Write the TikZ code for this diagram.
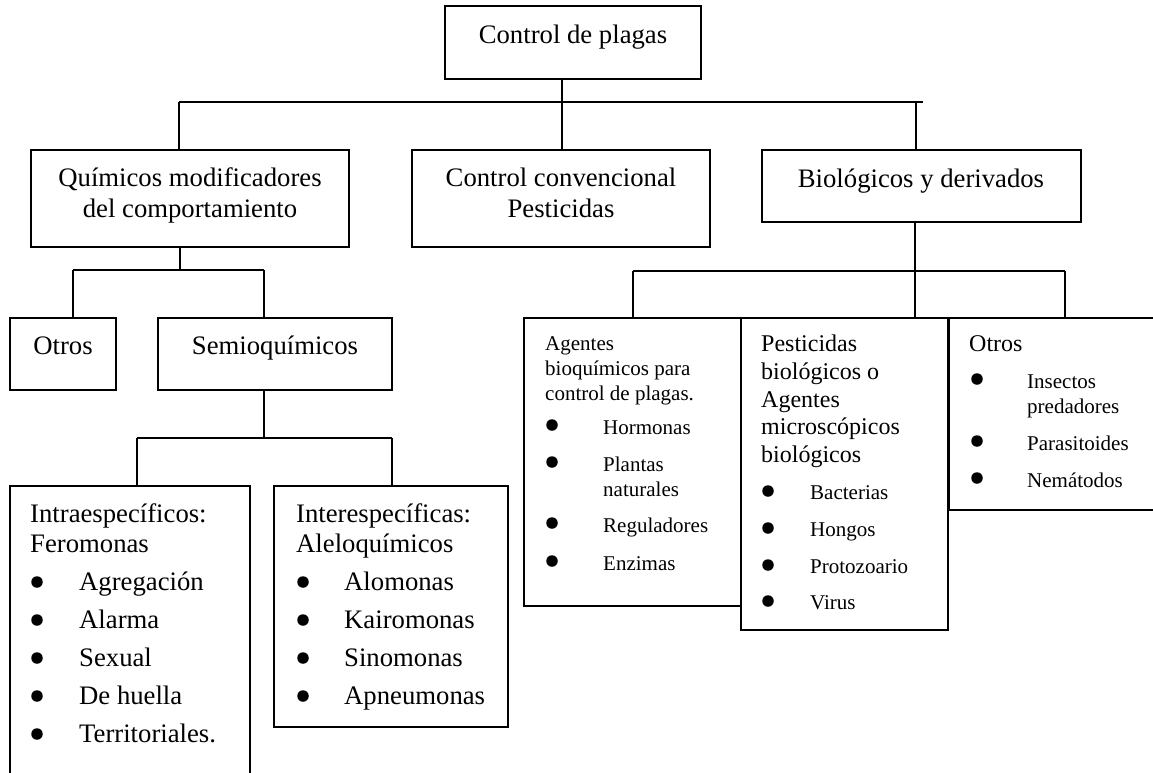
\documentclass[tikz,border=0pt]{standalone}
\usepackage{fontspec}
\setmainfont{Liberation Serif}
\newcommand\bigf{\fontsize{26.7}{31}\selectfont}
\newcommand\midf{\fontsize{24}{28}\selectfont}
\newcommand\smallf{\fontsize{21}{25}\selectfont}
\tikzset{
  box/.style={draw, line width=1.3pt, inner sep=0pt, rectangle},
  conn/.style={line width=1.3pt},
  tc/.style={inner sep=0pt, anchor=base},
  tl/.style={inner sep=0pt, anchor=base west},
  bul/.style={circle, fill=black, inner sep=0pt, minimum size=11.5pt},
}
\begin{document}
\begin{tikzpicture}[x=1pt,y=-1pt]
\useasboundingbox (0,0) rectangle (1153,772);
\clip (0,0) rectangle (1153,772);
\fill[white] (0,0) rectangle (1153,772);

% boxes
\node[box, minimum width=256pt, minimum height=73pt] (top) at (573,42.5) {};
\node[box, minimum width=318pt, minimum height=97pt] (quim) at (190,198.5) {};
\node[box, minimum width=298pt, minimum height=97pt] (conv) at (561,198.5) {};
\node[box, minimum width=319pt, minimum height=72pt] (bio) at (921.5,186) {};
\node[box, minimum width=106pt, minimum height=72pt] (otrosL) at (63,354) {};
\node[box, minimum width=234pt, minimum height=72pt] (semio) at (275,354) {};
\node[box, minimum width=240pt, minimum height=304pt] (intra) at (130,638) {};
\node[box, minimum width=234pt, minimum height=241pt] (inter) at (391,606.5) {};
\node[box, minimum width=217pt, minimum height=288pt] (agentes) at (632.5,462) {};
\node[box, minimum width=207pt, minimum height=312pt] (pest) at (844.5,474) {};
\node[box, minimum width=221pt, minimum height=192pt] (otrosR) at (1059.5,414) {};

% bus coordinates
\coordinate (b1L) at (179,102);
\coordinate (b1R) at (923,102);
\coordinate (b1C) at (562,102);
\coordinate (b1B) at (916,102);
\coordinate (b2L) at (73,270);
\coordinate (b2R) at (264,270);
\coordinate (b2C) at (180,270);
\coordinate (b3L) at (137,438);
\coordinate (b3R) at (392,438);
\coordinate (b4L) at (633,271);
\coordinate (b4R) at (1065,271);
\coordinate (b4C) at (915,271);

% connectors level 1
\draw[conn] (b1L) -- (b1R);
\draw[conn] (top.south -| b1C) -- (conv.north -| b1C);
\draw[conn] (b1L) -- (quim.north -| b1L);
\draw[conn] (b1B) -- (bio.north -| b1B);
% level 2 left
\draw[conn] (quim.south -| b2C) -- (b2C);
\draw[conn] (b2L) -- (b2R);
\draw[conn] (b2L) -- (otrosL.north -| b2L);
\draw[conn] (b2R) -- (semio.north -| b2R);
% level 3 left
\draw[conn] (semio.south -| b2R) -- (b3L -| b2R);
\draw[conn] (b3L) -- (b3R);
\draw[conn] (b3L) -- (intra.north -| b3L);
\draw[conn] (b3R) -- (inter.north -| b3R);
% level 2 right
\draw[conn] (bio.south -| b4C) -- (agentes.north -| b4C);
\draw[conn] (b4L) -- (b4R);
\draw[conn] (b4L) -- (agentes.north -| b4L);
\draw[conn] (b4R) -- (otrosR.north -| b4R);

% texts in upper boxes
\node[tc, font=\bigf] (t-top) at (573,43) {Control de plagas};
\node[tc, font=\bigf] (t-quim1) at (190,186) {Químicos modificadores};
\node[tc, font=\bigf] (t-quim2) at (190,217) {del comportamiento};
\node[tc, font=\bigf] (t-conv1) at (561,186) {Control convencional};
\node[tc, font=\bigf] (t-conv2) at (561,217) {Pesticidas};
\node[tc, font=\bigf] (t-bio) at (921,187) {Biológicos y derivados};
\node[tc, font=\bigf] (t-otrosL) at (63,354) {Otros};
\node[tc, font=\bigf] (t-semio) at (275,354) {Semioquímicos};

% Intraespecificos
\node[tl, font=\bigf] (t-in1) at (30,522) {Intraespecíficos:};
\node[tl, font=\bigf] (t-in2) at (30,552) {Feromonas};
\foreach \y/\t [count=\i] in {590/Agregación,628/Alarma,666/Sexual,704/De huella,742/Territoriales.}{
  \node[bul] (b-in\i) at (37,\y-8) {};
  \node[tl, font=\bigf] (t-ini\i) at (79,\y) {\t};
}
% Interespecificas
\node[tl, font=\bigf] (t-it1) at (296,522) {Interespecíficas:};
\node[tl, font=\bigf] (t-it2) at (296,552) {Aleloquímicos};
\foreach \y/\t [count=\i] in {590/Alomonas,628/Kairomonas,666/Sinomonas,704/Apneumonas}{
  \node[bul] (b-it\i) at (303,\y-8) {};
  \node[tl, font=\bigf] (t-iti\i) at (344,\y) {\t};
}

% Agentes
\node[tl, font=\smallf] (t-ag1) at (545,350) {Agentes};
\node[tl, font=\smallf] (t-ag2) at (545,375) {bioquímicos para};
\node[tl, font=\smallf] (t-ag3) at (545,400) {control de plagas.};
\foreach \y [count=\i] in {434,471,532,570}{
  \node[bul] (b-ag\i) at (552,\y-9) {};
}
\node[tl, font=\smallf] (t-agi1) at (603,434) {Hormonas};
\node[tl, font=\smallf] (t-agi2) at (603,471) {Plantas};
\node[tl, font=\smallf] (t-agi2b) at (603,496) {naturales};
\node[tl, font=\smallf] (t-agi3) at (603,532) {Reguladores};
\node[tl, font=\smallf] (t-agi4) at (603,570) {Enzimas};

% Pesticidas biologicos
\node[tl, font=\midf] (t-pe1) at (761,351) {Pesticidas};
\node[tl, font=\midf] (t-pe2) at (761,379) {biológicos o};
\node[tl, font=\midf] (t-pe3) at (761,407) {Agentes};
\node[tl, font=\midf] (t-pe4) at (761,434) {microscópicos};
\node[tl, font=\midf] (t-pe5) at (761,462) {biológicos};
\foreach \y/\t [count=\i] in {499/Bacterias,536/Hongos,573/Protozoario,609/Virus}{
  \node[bul] (b-pe\i) at (768,\y-8) {};
  \node[tl, font=\smallf] (t-pei\i) at (810,\y) {\t};
}

% Otros (right)
\node[tl, font=\midf] (t-or) at (969,351) {Otros};
\foreach \y [count=\i] in {388,450,487}{
  \node[bul] (b-or\i) at (977,\y-9) {};
}
\node[tl, font=\smallf] (t-ori1) at (1027,388) {Insectos};
\node[tl, font=\smallf] (t-ori1b) at (1027,413) {predadores};
\node[tl, font=\smallf] (t-ori2) at (1027,450) {Parasitoides};
\node[tl, font=\smallf] (t-ori3) at (1027,487) {Nemátodos};
\end{tikzpicture}
\end{document}
